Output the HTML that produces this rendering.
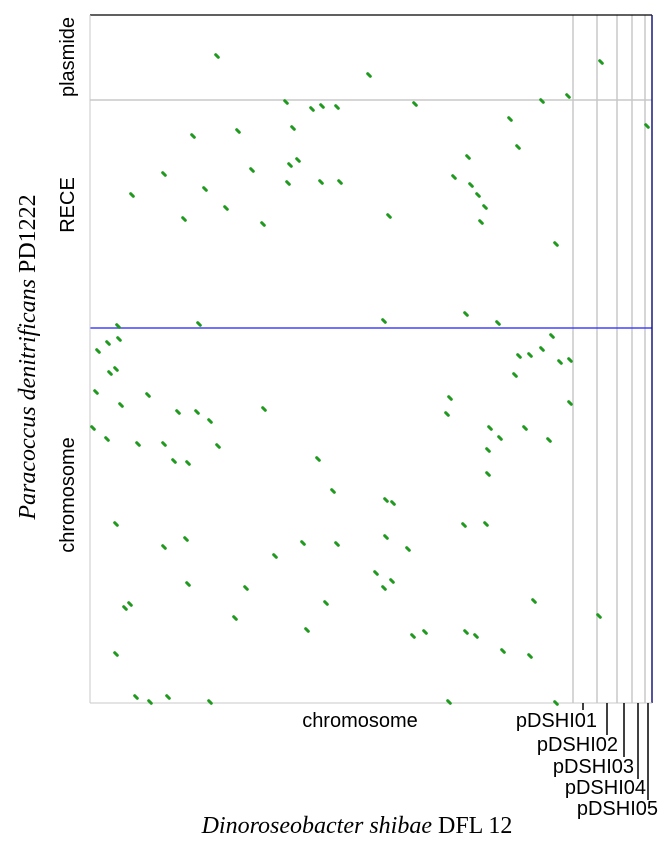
<!DOCTYPE html>
<html><head><meta charset="utf-8"><style>
body{margin:0;background:#fff;width:665px;height:845px;overflow:hidden}
svg{display:block}
</style></head><body>
<svg id="plot" width="665" height="845" xmlns="http://www.w3.org/2000/svg"></svg>
<script>
// alignment positions (kb) on query (x, D. shibae) and reference (y, P. denitrificans)
const xPos=[1270,2790,5110,4780,4520,3250,2320,2220,2470,1960,4200,1480,1030,2030,4280,5570,740,420,1620,2000,2080,1980,1150,2310,2500,3780,3640,3810,3880,3950,3910,940,1360,1730,2990,4660,2940,3760,4080,1090,280,
80,180,290,260,200,60,310,580,30,170,480,880,1070,1200,740,1280,840,980,1740,2280,2430,3600,3570,4000,4100,3980,3980,4620,4520,4400,4290,4800,4700,4250,4800,4350,4590,260,740,960,1850,2130,2470,2960,3030,2960,3180,3740,3960,2860,3020,350,400,980,1560,1450,2360,2940,2170,3230,3350,3760,3860,4130,4400,4440,5090,260,460,600,780,1200,3590,4660];
const yPos=[6470,6280,6410,6070,6020,5990,5970,5940,5960,6010,5840,5720,5670,5750,5560,5770,5290,5080,5330,5380,5430,5200,5140,5210,5210,5460,5260,5180,5080,4960,4810,4840,4950,4790,4870,4590,3820,3890,3800,3790,3770,
3520,3600,3640,3340,3300,3110,2980,3080,2750,2640,2590,2910,2910,2820,2590,2570,2420,2400,2940,2440,2120,3050,2890,2750,2650,2530,2290,3670,3540,3480,3470,3430,3410,3280,3000,2750,2630,1790,1560,1640,1470,1600,1590,2030,2000,1660,1540,1780,1790,1300,1220,950,990,1190,1150,850,1000,1150,730,670,710,710,670,520,470,1020,870,490,60,10,60,10,10,0];
const xTicks=["pDSHI01","pDSHI02","pDSHI03","pDSHI04","pDSHI05"];
const xTickAt=[4930,5170,5340,5480,5580];
const xBounds=[4830,5070,5270,5420,5550];
const yBounds=[6030,3750];

const svg=document.getElementById('plot');
const NS='http://www.w3.org/2000/svg';
const L=90,R=652,T=15,B=703;
const xMax=5620,yMax=6880;
const sx=v=>L+v/xMax*(R-L);
const sy=v=>B-v/yMax*(B-T);
function mk(tag,attrs,text){const e=document.createElementNS(NS,tag);for(const k in attrs)e.setAttribute(k,attrs[k]);if(text!==undefined)e.textContent=text;svg.appendChild(e);return e;}

let e;
e=mk('rect',{x:L,y:T,width:R-L,height:B-T,fill:'#fff',stroke:'none'});


xBounds.forEach((b,i)=>{
 e=mk('line',{x1:sx(b),x2:sx(b),y1:T,y2:B,stroke:'#c8c8c8','stroke-width':1.5});
 
 
});
e=mk('line',{x1:L,x2:R,y1:sy(yBounds[0]),y2:sy(yBounds[0]),stroke:'#c8c8c8','stroke-width':1.5});


e=mk('line',{x1:L,x2:R,y1:sy(yBounds[1]),y2:sy(yBounds[1]),stroke:'#4444ff','stroke-width':1.5});


e=mk('line',{x1:L,x2:R,y1:T,y2:T,stroke:'#000','stroke-width':1.2});


e=mk('line',{x1:R,x2:R,y1:T,y2:B,stroke:'#1a1a80','stroke-width':1.5});


e=mk('line',{x1:L,x2:L,y1:T,y2:B,stroke:'#c8c8c8','stroke-width':1});


e=mk('line',{x1:L,x2:R,y1:B,y2:B,stroke:'#c8c8c8','stroke-width':1});



xPos.forEach((v,i)=>{
 const x=sx(v),y=sy(yPos[i]);
 e=mk('line',{x1:x-1.3,y1:y-1.3,x2:x+1.3,y2:y+1.3,stroke:'#1f9a1f','stroke-width':3,'stroke-linecap':'round'});
 
 
});

const ends=[710,735,757,779,800];
const ly=[727,751,773,794,815];
const rx=[597,618,634,646,658];
xTicks.forEach((t,i)=>{
 const x=sx(xTickAt[i]);
 e=mk('line',{x1:x,x2:x,y1:B,y2:ends[i],stroke:'#000','stroke-width':1.5});
 
 
 e=mk('text',{x:rx[i],y:ly[i],'text-anchor':'end','font-family':'Liberation Sans, sans-serif','font-size':20},t);
 
 
});
e=mk('text',{x:360,y:727,'text-anchor':'middle','font-family':'Liberation Sans, sans-serif','font-size':20},'chromosome');


[['plasmide',57],['RECE',205],['chromosome',495]].forEach(([t,y])=>{
 e=mk('text',{x:0,y:0,transform:`translate(74,${y}) rotate(-90)`,'text-anchor':'middle','font-family':'Liberation Sans, sans-serif','font-size':20},t);
 
 
});
e=mk('text',{x:357,y:833,'text-anchor':'middle','font-family':'Liberation Serif, serif','font-size':24});


e.innerHTML='<tspan font-style="italic">Dinoroseobacter shibae</tspan> DFL 12';
e=mk('text',{x:0,y:0,transform:'translate(35,357) rotate(-90)','text-anchor':'middle','font-family':'Liberation Serif, serif','font-size':24});


e.innerHTML='<tspan font-style="italic">Paracoccus denitrificans</tspan> PD1222';
</script>
</body></html>
